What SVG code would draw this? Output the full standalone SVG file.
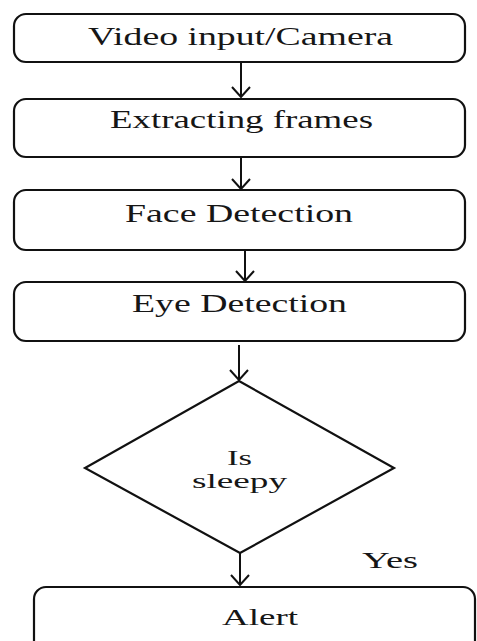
<svg xmlns="http://www.w3.org/2000/svg" width="477" height="641" viewBox="0 0 477 641">
<style>
.box{fill:#fff;stroke:#111;stroke-width:2.2}
.t{font-family:"Liberation Serif","Times New Roman",serif;fill:#161616;text-anchor:middle}
.c{stroke:#111;stroke-width:2;fill:none}
</style>
<defs>
<marker id="ah" viewBox="-12 -10 13 20" markerWidth="13" markerHeight="20" refX="0" refY="0" orient="auto" markerUnits="userSpaceOnUse">
<path d="M-10,-9 L0,0 L-10,9" fill="none" stroke="#111" stroke-width="2"/>
</marker>
</defs>
<rect width="477" height="641" fill="#fff"/>
<g id="connectors">
<line class="c" x1="241" y1="62" x2="241" y2="97" marker-end="url(#ah)"/>
<line class="c" x1="241" y1="157" x2="241" y2="189" marker-end="url(#ah)"/>
<line class="c" x1="245" y1="250" x2="245" y2="281" marker-end="url(#ah)"/>
<line class="c" x1="239" y1="345" x2="239" y2="380" marker-end="url(#ah)"/>
<line class="c" x1="240" y1="553" x2="240" y2="585" marker-end="url(#ah)"/>
</g>
<g id="n1">
<rect class="box" x="14" y="14" width="451" height="48" rx="12"/>
<text class="t" x="240.5" y="45" font-size="25" textLength="305" lengthAdjust="spacingAndGlyphs">Video input/Camera</text>
</g>
<g id="n2">
<rect class="box" x="14" y="99" width="451" height="58" rx="12"/>
<text class="t" x="241.5" y="128" font-size="25" textLength="263" lengthAdjust="spacingAndGlyphs">Extracting frames</text>
</g>
<g id="n3">
<rect class="box" x="14" y="190" width="451" height="60" rx="12"/>
<text class="t" x="239" y="222" font-size="25" textLength="228" lengthAdjust="spacingAndGlyphs">Face Detection</text>
</g>
<g id="n4">
<rect class="box" x="14" y="282" width="451" height="59" rx="12"/>
<text class="t" x="239.5" y="312" font-size="25" textLength="215" lengthAdjust="spacingAndGlyphs">Eye Detection</text>
</g>
<g id="n5">
<polygon class="box" points="239,381 394,468 240,553 85,468"/>
<text class="t" x="239.5" y="465" font-size="22" textLength="25" lengthAdjust="spacingAndGlyphs">Is</text>
<text class="t" x="239.5" y="488" font-size="22" textLength="95" lengthAdjust="spacingAndGlyphs">sleepy</text>
</g>
<text class="t" x="390" y="568" font-size="23" textLength="56" lengthAdjust="spacingAndGlyphs">Yes</text>
<g id="n6">
<rect class="box" x="34" y="587" width="441" height="80" rx="12"/>
<text class="t" x="260" y="625" font-size="23" textLength="76" lengthAdjust="spacingAndGlyphs">Alert</text>
</g>
</svg>
